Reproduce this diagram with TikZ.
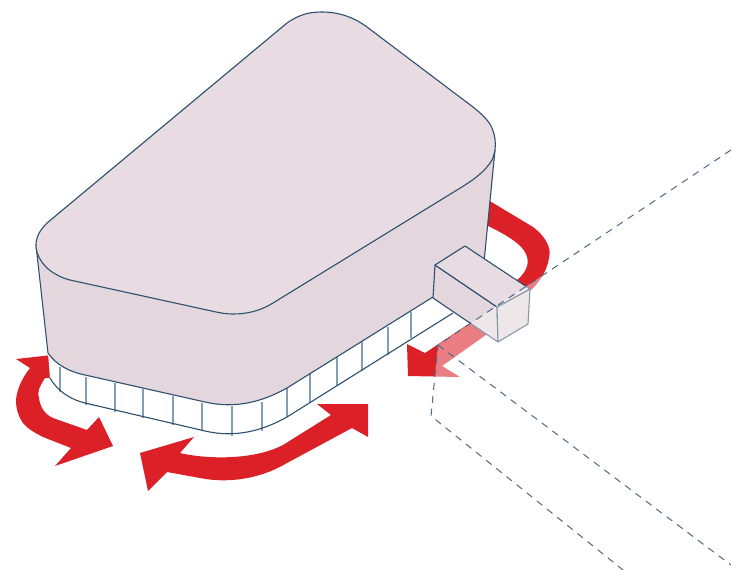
\documentclass[tikz,border=0pt]{standalone}
\usepackage{xcolor}
\usepackage{tikz}
\definecolor{myred}{RGB}{219,32,39}
\definecolor{myline}{RGB}{44,80,110}
\definecolor{mygrid}{RGB}{130,160,180}
\definecolor{hdrtop}{RGB}{232,220,226}
\definecolor{hdrside}{RGB}{227,214,220}
\tikzset{
  redshape/.style={fill=myred, draw=none},
  topface/.style={fill=hdrtop, draw=myline, line width=1.1pt, line join=round},
  sideface/.style={fill=hdrside, draw=myline, line width=1.1pt, line join=round},
  edgeline/.style={draw=myline, line width=1.1pt},
  gridline/.style={draw=mygrid, line width=1.5pt},
  veil/.style={fill=white, fill opacity=0.42, draw=none},
  dashline/.style={draw=myline!85, line width=1pt, dash pattern=on 7pt off 6pt}
}

\begin{document}
\begin{tikzpicture}[x=1pt, y=-1pt]
  \useasboundingbox (0,0) rectangle (731,570);

  % red arrows
  \fill[redshape] (16,359) -- (52,355) -- (52,378) -- (45,378)
    .. controls (39,387) and (37,393) .. (39,398) .. controls (40,406) and (44,414) .. (53,418)
    -- (87,430) -- (99,417) -- (113,446)
    -- (55,466) -- (71,448) -- (43,437) .. controls (33,432) and (27,428) .. (23,423)
    .. controls (18,416) and (16,408) .. (16,400)
    .. controls (17,388) and (23,377) .. (30,368) -- cycle;
  \fill[redshape] (368,404) -- (368,437) -- (352,428) -- (287,463)
    .. controls (262,478) and (230,484) .. (200,478) -- (167,472) -- (148,491) -- (140,453)
    -- (194,437) -- (180,453) .. controls (200,458) and (250,462) .. (283,445)
    -- (331,415) -- (317,404) -- cycle;
  \fill[redshape] (488,200) -- (533,227) .. controls (545,236) and (552,248) .. (549,258)
    .. controls (547,272) and (538,284) .. (528,293) .. controls (517,305) and (505,320) .. (493,330)
    -- (442,366) -- (460,377) -- (408,376)
    -- (407,344) -- (425,353) -- (470,323) .. controls (490,308) and (505,292) .. (517,280)
    .. controls (527,272) and (530,262) .. (526,254)
    .. controls (522,244) and (505,234) .. (486,225) -- cycle;

  % strip below the body
  \path[fill=white] (48,353) -- (50,378) .. controls (58,392) and (72,400) .. (85,403)
    -- (205,431) .. controls (235,438) and (262,431) .. (287,417) -- (453,313) -- (433,297) -- cycle;
  \foreach \px/\ptop/\pbot in {60/367/392, 86/377/405, 115/383/412, 143/389/418, 173/396/425,
      202/403/431, 232/406/436, 262/402/431, 287/388/417, 310/374/403, 337/357/386, 362/342/371,
      388/327/355, 411/312/338}
    \draw[gridline] (\px,\ptop) -- (\px,\pbot);
  \draw[edgeline] (50,378) .. controls (58,392) and (72,400) .. (85,403)
    -- (205,431) .. controls (235,438) and (262,431) .. (287,417) -- (453,313);

  % body
  \path[sideface] (36,245) -- (48,353) .. controls (56,365) and (70,372) .. (85,375)
    -- (205,402) .. controls (235,409) and (262,402) .. (287,388) -- (433,297)
    -- (484,262) -- (495,150) -- cycle;
  \path[topface] (36,245) .. controls (36,237) and (40,230) .. (47,223)
    -- (287,23) .. controls (300,14) and (310,12) .. (322,12)
    .. controls (340,12) and (355,18) .. (367,27)
    -- (473,107) .. controls (482,114) and (489,121) .. (492,128)
    .. controls (495,135) and (496,143) .. (495,150)
    .. controls (494,155) and (493,158) .. (492,160)
    .. controls (485,172) and (472,181) .. (457,190)
    -- (273,303) .. controls (260,311) and (247,314) .. (233,314)
    .. controls (224,314) and (216,312) .. (207,310)
    -- (70,280) .. controls (62,278) and (54,274) .. (47,268)
    .. controls (40,261) and (36,253) .. (36,245) -- cycle;

  % box
  \path[sideface] (435,265) -- (433,298) -- (498,342) -- (497,307) -- cycle;
  \path[sideface] (497,307) -- (498,342) -- (528,324) -- (530,289) -- cycle;
  \path[topface] (435,265) -- (465,246) -- (530,289) -- (497,307) -- cycle;

  % veil and dashed outline
  \fill[veil] (731,150) -- (438,345) -- (431,416) -- (623,570) -- (731,570) -- cycle;
  \draw[dashline] (731,150) -- (438,345) -- (431,416) -- (623,570);
  \draw[dashline] (438,345) -- (731,565);
\end{tikzpicture}
\end{document}
